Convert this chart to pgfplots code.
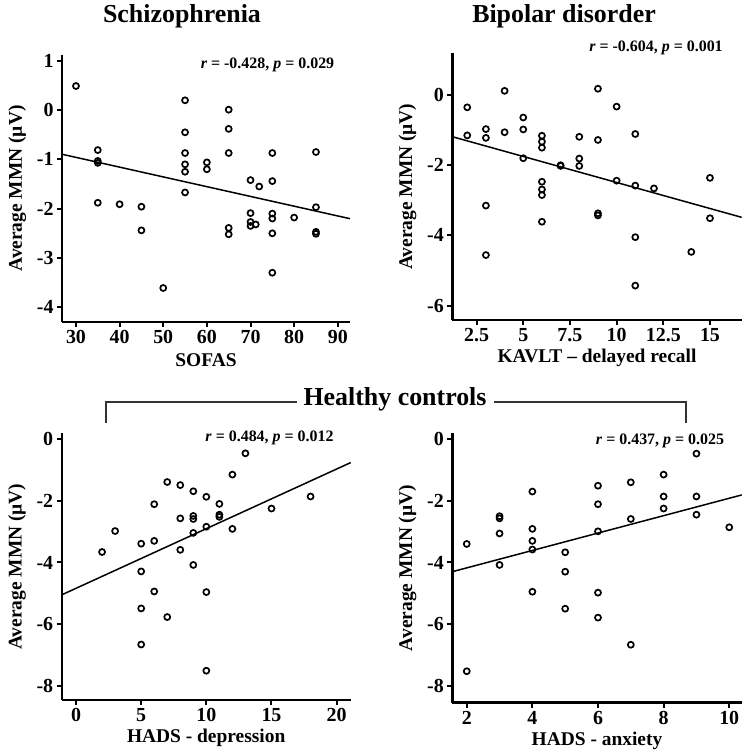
\documentclass[border=0pt]{standalone}
\usepackage{pgfplots}
\pgfplotsset{compat=1.18}
\usepackage{fontspec}
\setmainfont{Liberation Serif}
\begin{document}
\begin{tikzpicture}[x=1bp,y=1bp]
\useasboundingbox (0,0) rectangle (750,756);
\pgfplotsset{
 panel/.style={
  scale only axis,
  anchor=south west,
  axis x line*=bottom, axis y line*=left,
  axis line style={line width=2.4bp,-},
  tick align=outside,
  major tick length=5bp,
  every tick/.style={line width=2bp,black},
  /pgf/number format/assume math mode=true,
  xticklabel={\fontsize{20}{20}\selectfont\bfseries\pgfmathprintnumber{\tick}},
  yticklabel={\fontsize{20}{20}\selectfont\bfseries\pgfmathprintnumber{\tick}},
  ylabel={Average MMN (µV)},
  every axis y label/.style={at={(axis description cs:-0.155,0.5)},rotate=90,anchor=center,font=\fontsize{19.5}{19.5}\selectfont\bfseries},
  every axis x label/.style={at={(axis description cs:0.5,-0.142)},anchor=center,font=\fontsize{19.5}{19.5}\selectfont\bfseries},
  clip=false,
 },
 pts/.style={only marks, mark=o, mark size=3bp, mark options={line width=1.7bp,black}},
 fit/.style={no marks, line width=1.5bp, black},
}
% ---------- Schizophrenia ----------
\begin{axis}[panel, at={(62bp,434bp)}, width=288bp, height=267bp,
  xmin=26.8, xmax=92.8, ymin=-4.30, ymax=1.12,
  xtick={30,40,...,90}, ytick={-4,-3,...,1}, xlabel={SOFAS}]
\addplot[pts] coordinates {
(30,0.49) (35,-0.81) (35,-1.03) (35,-1.07) (35,-1.88) (40,-1.91)
(45,-1.96) (45,-2.44) (50,-3.61)
(55,0.2) (55,-0.45) (55,-0.87) (55,-1.1) (55,-1.25) (55,-1.67)
(60,-1.06) (60,-1.2)
(65,0.01) (65,-0.38) (65,-0.87) (65,-2.39) (65,-2.52)
(70,-1.42) (70,-2.09) (70,-2.27) (70,-2.35) (71.2,-2.32) (72,-1.55)
(75,-0.87) (75,-1.44) (75,-2.1) (75,-2.2) (75,-2.5) (75,-3.3)
(80,-2.18) (85,-0.85) (85,-1.97) (85,-2.47) (85,-2.51)
};
\addplot[fit] coordinates {(26.8,-0.895) (92.8,-2.203)};
\end{axis}
% ---------- Bipolar disorder ----------
\begin{axis}[panel, at={(452.3bp,436bp)}, width=289.4bp, height=266.7bp,
  xmin=1.2, xmax=16.7, ymin=-6.41, ymax=1.19,
  xtick={2.5,5,7.5,10,12.5,15}, ytick={-6,-4,-2,0}, xlabel={KAVLT -- delayed recall}]
\addplot[pts] coordinates {
(2,-0.35) (2,-1.15)
(3,-0.97) (3,-1.22) (3,-3.15) (3,-4.56)
(4,0.12) (4,-1.06)
(5,-0.64) (5,-0.98) (5,-1.8)
(6,-1.16) (6,-1.33) (6,-1.5) (6,-2.47) (6,-2.69) (6,-2.85) (6,-3.61)
(7,-2.0) (7,-2.02)
(8,-1.19) (8,-1.81) (8,-2.02)
(9,0.18) (9,-1.28) (9,-3.37) (9,-3.43)
(10,-0.33) (10,-2.44)
(11,-1.11) (11,-2.58) (11,-4.05) (11,-5.43)
(12,-2.66) (14,-4.47) (15,-2.36) (15,-3.51)
};
\addplot[fit] coordinates {(1.2,-1.187) (16.7,-3.485)};
\end{axis}
% ---------- HADS - depression ----------
\begin{axis}[panel, at={(61.7bp,56bp)}, width=289bp, height=266.7bp,
  xmin=-1.1, xmax=21.08, ymin=-8.46, ymax=0.19,
  xtick={0,5,...,20}, ytick={-8,-6,...,0}, xlabel={HADS - depression}]
\addplot[pts] coordinates {
(2,-3.66) (3,-2.98)
(5,-3.39) (5,-4.29) (5,-5.49) (5,-6.66)
(6,-2.11) (6,-3.3) (6,-4.94)
(7,-1.39) (7,-5.77)
(8,-1.49) (8,-2.57) (8,-3.59)
(9,-1.69) (9,-2.49) (9,-2.59) (9,-3.04) (9,-4.08)
(10,-1.87) (10,-2.84) (10,-4.96) (10,-7.51)
(11,-2.1) (11,-2.45) (11,-2.52)
(12,-1.15) (12,-2.91) (13,-0.46) (15,-2.25) (18,-1.86)
};
\addplot[fit] coordinates {(-1.1,-5.05) (21.08,-0.76)};
\end{axis}
% ---------- HADS - anxiety ----------
\begin{axis}[panel, at={(452.3bp,53.3bp)}, width=289.4bp, height=269.4bp,
  xmin=1.56, xmax=10.38, ymin=-8.55, ymax=0.19,
  xtick={2,4,...,10}, ytick={-8,-6,...,0}, xlabel={HADS - anxiety}]
\addplot[pts] coordinates {
(2,-3.4) (2,-7.53)
(3,-2.5) (3,-2.57) (3,-3.06) (3,-4.08)
(4,-1.7) (4,-2.91) (4,-3.3) (4,-3.58) (4,-4.95)
(5,-3.67) (5,-4.3) (5,-5.5)
(6,-1.51) (6,-2.11) (6,-2.99) (6,-4.98) (6,-5.79)
(7,-1.4) (7,-2.59) (7,-6.67)
(8,-1.15) (8,-1.86) (8,-2.25)
(9,-0.47) (9,-1.86) (9,-2.45)
(10,-2.86)
};
\addplot[fit] coordinates {(1.56,-4.30) (10.38,-1.81)};
\end{axis}
% ---------- titles and annotations ----------
\node[anchor=base,font=\fontsize{26}{26}\selectfont\bfseries] at (182,733) {Schizophrenia};
\node[anchor=base,font=\fontsize{26}{26}\selectfont\bfseries] at (564,733) {Bipolar disorder};
\draw[line width=1.2bp,black!80] (106,333) -- (106,354) -- (686,354) -- (686,333);
\node[anchor=base,fill=white,inner xsep=7bp,inner ysep=0bp,font=\fontsize{26}{26}\selectfont\bfseries] at (395,350.3) {Healthy controls};
\node[font=\fontsize{16}{16}\selectfont\bfseries] at (267.5,691) {\textit{r} = -0.428, \textit{p} = 0.029};
\node[font=\fontsize{16}{16}\selectfont\bfseries] at (656,708) {\textit{r} = -0.604, \textit{p} = 0.001};
\node[font=\fontsize{16}{16}\selectfont\bfseries] at (269.5,318.3) {\textit{r} = 0.484, \textit{p} = 0.012};
\node[font=\fontsize{16}{16}\selectfont\bfseries] at (660,315) {\textit{r} = 0.437, \textit{p} = 0.025};
\end{tikzpicture}
\end{document}
